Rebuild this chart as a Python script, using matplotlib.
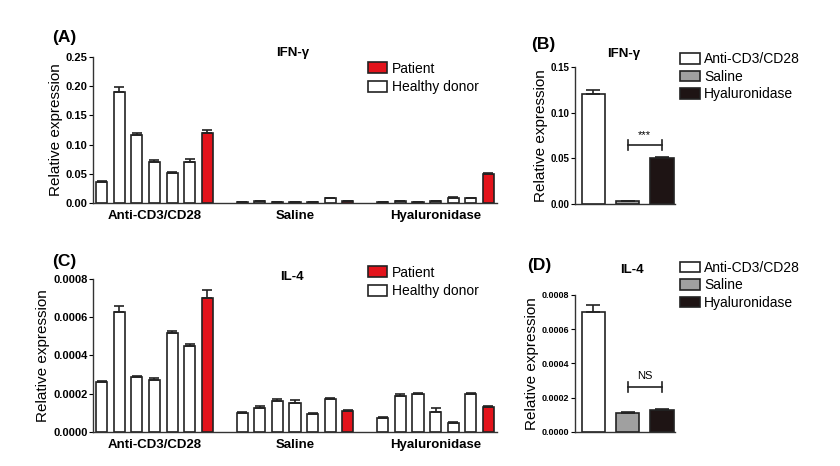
import numpy as np
import matplotlib
matplotlib.use("Agg")
import matplotlib.pyplot as plt
from matplotlib.patches import Patch

plt.rcParams['font.family'] = ['Liberation Sans', 'DejaVu Sans']

groups = ['Anti-CD3/CD28', 'Saline', 'Hyaluronidase']

# panel A: IFN-gamma, 6 healthy donors + patient (last) per group
ifn_vals = [[0.036, 0.190, 0.116, 0.071, 0.051, 0.071, 0.120],
            [0.002, 0.003, 0.002, 0.002, 0.002, 0.008, 0.003],
            [0.002, 0.003, 0.002, 0.003, 0.009, 0.008, 0.050]]
ifn_err = [[0.002, 0.008, 0.004, 0.002, 0.002, 0.005, 0.005],
           [0.0005, 0.0005, 0.0005, 0.0005, 0.0005, 0.001, 0.0005],
           [0.0005, 0.0005, 0.0005, 0.0005, 0.001, 0.001, 0.002]]

# panel C: IL-4
il4_vals = [[0.00026, 0.00063, 0.00029, 0.00027, 0.00052, 0.00045, 0.00070],
            [0.00010, 0.000125, 0.00016, 0.00015, 0.000095, 0.000175, 0.00011],
            [0.000075, 0.00019, 0.0002, 0.000105, 0.000047, 0.0002, 0.00013]]
il4_err = [[0.000006, 0.00003, 0.000004, 0.00001, 0.00001, 0.000008, 0.00004],
           [0.000004, 0.000012, 0.00001, 0.000018, 0.000005, 0.000005, 0.000005],
           [0.000005, 0.000006, 0.000006, 0.00002, 0.000003, 0.000006, 0.000005]]

# panels B, D: group means
ifn_mean = [0.120, 0.003, 0.050]
ifn_mean_err = [0.005, 0.0005, 0.002]
il4_mean = [0.00070, 0.00011, 0.00013]
il4_mean_err = [0.00004, 0.000004, 0.000004]

ifn_ticks = [0.00, 0.05, 0.10, 0.15, 0.20, 0.25]
il4_ticks = [0.0, 0.0002, 0.0004, 0.0006, 0.0008]
ifn_b_ticks = [0.00, 0.05, 0.10, 0.15]

RED = '#e3131b'
GREY = '#a0a0a0'
DARK = '#1e1414'
EDGE = '#222222'


def style(ax, size):
    for s in ['top', 'right']:
        ax.spines[s].set_visible(False)
    for s in ['left', 'bottom']:
        ax.spines[s].set_linewidth(1.0)
        ax.spines[s].set_color('#333333')
    ax.tick_params(axis='y', length=3, width=0.8, labelsize=size, pad=1)
    for t in ax.get_yticklabels():
        t.set_fontweight('bold')


def donor_panel(ax, vals, errs, ticks, fmt, ymax):
    n = len(vals[0])
    for g in range(len(groups)):
        x = np.arange(n) + g * (n + 1)
        colors = ['white'] * (n - 1) + [RED]
        lo = np.zeros(n)
        ax.bar(x, vals[g], width=0.63, color=colors, edgecolor=EDGE,
               linewidth=1.2, yerr=[lo, errs[g]], capsize=3.5,
               error_kw=dict(elinewidth=1.2, capthick=1.2, ecolor=EDGE))
    ax.set_xlim(-0.5, 3 * n + 1.5)
    ax.set_ylim(0, ymax)
    ax.set_yticks(ticks)
    ax.set_yticklabels([fmt.format(t) for t in ticks])
    ax.set_xticks([(n - 1) / 2 + g * (n + 1) for g in range(len(groups))])
    ax.set_xticklabels(groups, fontsize=9.5, fontweight='bold')
    ax.tick_params(axis='x', length=0, pad=5)
    ax.set_ylabel('Relative expression', fontsize=11, labelpad=2)
    style(ax, 8)


def mean_panel(ax, vals, errs, ticks, fmt, ymax, bracket_y, sig, tick_size):
    x = np.arange(3)
    ax.bar(x, vals, width=0.68, color=['white', GREY, DARK], edgecolor=EDGE,
           linewidth=1.2, yerr=[np.zeros(3), errs], capsize=5,
           error_kw=dict(elinewidth=1.2, capthick=1.2, ecolor=EDGE))
    ax.set_xlim(-0.54, 2.38)
    ax.set_ylim(0, ymax)
    ax.set_yticks(ticks)
    ax.set_yticklabels([fmt.format(t) for t in ticks])
    ax.set_xticks([])
    ax.set_ylabel('Relative expression', fontsize=11, labelpad=2)
    ax.plot([1, 2], [bracket_y, bracket_y], color=EDGE, lw=1.2)
    for xx in [1, 2]:
        ax.plot([xx, xx], [bracket_y - ymax * 0.035, bracket_y + ymax * 0.035],
                color=EDGE, lw=1.2)
    ax.text(1.5, bracket_y + ymax * 0.04, sig, ha='center', va='bottom',
            fontsize=8)
    style(ax, tick_size)


fig = plt.figure(figsize=(8.4, 4.66), dpi=100)

axA = fig.add_axes([0.1107, 0.5644, 0.481, 0.3133])
donor_panel(axA, ifn_vals, ifn_err, ifn_ticks, '{:.2f}', 0.25)
axC = fig.add_axes([0.1107, 0.073, 0.481, 0.3283])
donor_panel(axC, il4_vals, il4_err, il4_ticks, '{:.4f}', 0.0008)

axB = fig.add_axes([0.6845, 0.5622, 0.119, 0.294])
mean_panel(axB, ifn_mean, ifn_mean_err, ifn_b_ticks, '{:.2f}', 0.15,
           0.0645, '***', 7)
axD = fig.add_axes([0.6845, 0.073, 0.119, 0.294])
mean_panel(axD, il4_mean, il4_mean_err, il4_ticks, '{:.4f}', 0.0008,
           0.000263, 'NS', 6.5)

# panel letters and titles
fig.text(0.062, 0.91, '(A)', fontsize=12.5, fontweight='bold')
fig.text(0.062, 0.43, '(C)', fontsize=12.5, fontweight='bold')
fig.text(0.632, 0.895, '(B)', fontsize=12.5, fontweight='bold')
fig.text(0.627, 0.42, '(D)', fontsize=12.5, fontweight='bold')
fig.text(0.349, 0.88, 'IFN-γ', fontsize=9.5, fontweight='bold', ha='center')
fig.text(0.348, 0.4, 'IL-4', fontsize=9.5, fontweight='bold', ha='center')
fig.text(0.742, 0.877, 'IFN-γ', fontsize=9.5, fontweight='bold', ha='center')
fig.text(0.752, 0.415, 'IL-4', fontsize=9.5, fontweight='bold', ha='center')

# legends
pat_handles = [Patch(facecolor=RED, edgecolor=EDGE, linewidth=1.2),
               Patch(facecolor='white', edgecolor=EDGE, linewidth=1.2)]
pat_labels = ['Patient', 'Healthy donor']
trt_handles = [Patch(facecolor='white', edgecolor=EDGE, linewidth=1.2),
               Patch(facecolor=GREY, edgecolor=EDGE, linewidth=1.2),
               Patch(facecolor=DARK, edgecolor=EDGE, linewidth=1.2)]

leg_kw = dict(frameon=False, fontsize=10, handlelength=1.4, handleheight=0.8,
              handletextpad=0.3, labelspacing=0.35, borderpad=0,
              borderaxespad=0, loc='upper left')
fig.legend(pat_handles, pat_labels, bbox_to_anchor=(0.438, 0.868), **leg_kw)
fig.legend(pat_handles, pat_labels, bbox_to_anchor=(0.438, 0.43), **leg_kw)
leg_kw['labelspacing'] = 0.25
fig.legend(trt_handles, groups, bbox_to_anchor=(0.81, 0.888), **leg_kw)
fig.legend(trt_handles, groups, bbox_to_anchor=(0.81, 0.44), **leg_kw)

fig.savefig('out.png', dpi=100)
